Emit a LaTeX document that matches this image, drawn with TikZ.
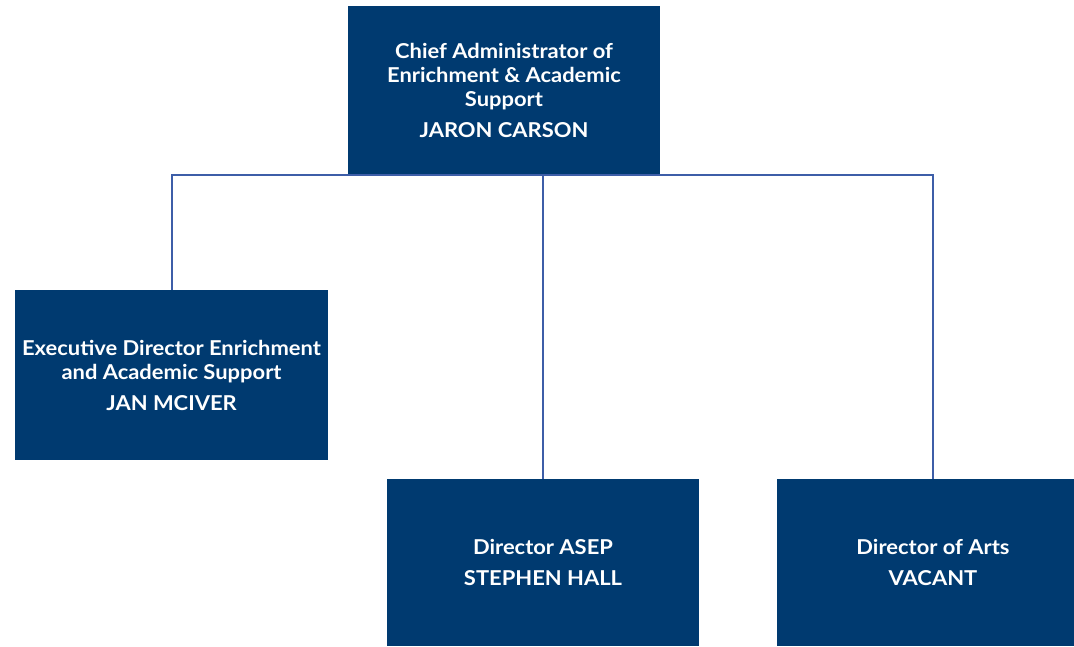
\documentclass[tikz,border=0pt]{standalone}
\usepackage{fontspec}
\setmainfont{Lato}[FakeStretch=1.07]
\definecolor{boxblue}{HTML}{003A70}
\definecolor{linkblue}{HTML}{3D5EA8}
\begin{document}
\begin{tikzpicture}[x=1pt,y=-1pt,
  orgbox/.style={draw=none,fill=boxblue,text=white,align=center,inner sep=0pt,
    font=\fontsize{20.5}{24}\selectfont\bfseries},
  link/.style={draw=linkblue,line width=2pt}]
\useasboundingbox (0,0) rectangle (1074,646);
\clip (0,0) rectangle (1074,646);
\node[orgbox,minimum width=312pt,minimum height=169pt] (chief) at (504,90.5)
  {Chief Administrator of\\Enrichment \& Academic\\Support\\[7pt]JARON CARSON};
\node[orgbox,minimum width=313pt,minimum height=170pt] (exec) at (171.5,375)
  {Executive Director Enrichment\\and Academic Support\\[7pt]JAN MCIVER};
\node[orgbox,minimum width=312pt,minimum height=167pt] (asep) at (543,562.5)
  {Director ASEP\\[7pt]STEPHEN HALL};
\node[orgbox,minimum width=312pt,minimum height=167pt] (arts) at (933,562.5)
  {Director of Arts\\[7pt]VACANT};
\coordinate (bus) at (504,175);
\draw[link] (exec.north) -- (exec.north |- bus) -- (arts.north |- bus) -- (arts.north);
\draw[link] (asep.north |- bus) -- (asep.north);
\end{tikzpicture}
\end{document}
